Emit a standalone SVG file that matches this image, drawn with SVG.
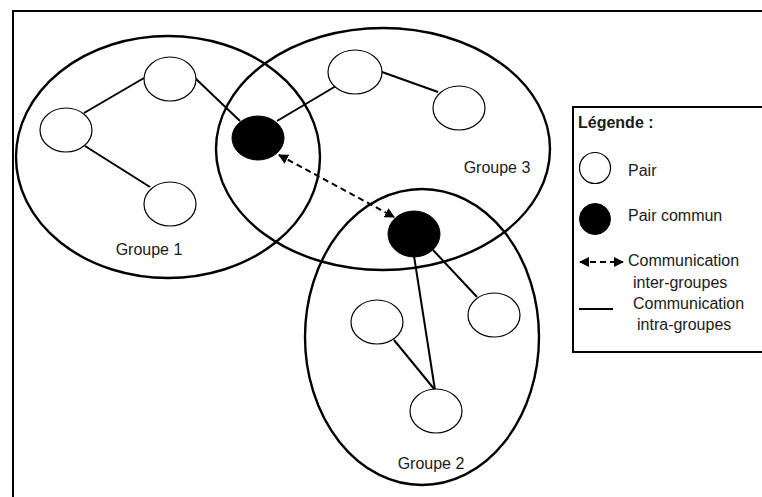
<svg xmlns="http://www.w3.org/2000/svg" width="762" height="497" viewBox="0 0 762 497">
<style>
.grp{fill:none;stroke:#000;stroke-width:2.4}
.pair{fill:#fff;stroke:#000;stroke-width:1.2}
.common{fill:#000;stroke:#000;stroke-width:1}
.intra{stroke:#000;stroke-width:2;fill:none}
.inter{stroke:#000;stroke-width:2;stroke-dasharray:6 4;fill:none;marker-start:url(#ah);marker-end:url(#ah)}
text{font-family:"Liberation Sans",Arial,sans-serif;font-size:16px;fill:#1a1a1a}
.b{font-weight:bold}
</style>
<defs>
<marker id="ah" viewBox="0 0 10 10" refX="9" refY="5" markerWidth="5" markerHeight="5" orient="auto-start-reverse" markerUnits="strokeWidth">
<path d="M0,0 L10,5 L0,10 z" fill="#000"/>
</marker>
</defs>
<rect width="762" height="497" fill="#fff"/>
<path d="M13,497 V11 H762" fill="none" stroke="#000" stroke-width="2"/>

<g id="groupe1">
<ellipse class="grp" cx="168" cy="157" rx="152" ry="121"/>
<text x="149" y="255" text-anchor="middle">Groupe 1</text>
</g>
<g id="groupe3">
<ellipse class="grp" cx="383" cy="149" rx="167" ry="121"/>
<text x="497" y="173" text-anchor="middle">Groupe 3</text>
</g>
<g id="groupe2">
<ellipse class="grp" cx="422" cy="337" rx="117" ry="148"/>
<text x="431" y="469" text-anchor="middle">Groupe 2</text>
</g>

<g id="connectors">
<line class="intra" x1="84" y1="113" x2="144" y2="78"/>
<line class="intra" x1="85" y1="146" x2="150" y2="187"/>
<line class="intra" x1="195" y1="78" x2="240" y2="121"/>
<line class="intra" x1="277" y1="121" x2="336" y2="86"/>
<line class="intra" x1="382" y1="72" x2="438" y2="92"/>
<line class="intra" x1="414" y1="256" x2="435" y2="390"/>
<line class="intra" x1="394" y1="340" x2="435" y2="390"/>
<line class="intra" x1="433" y1="250" x2="477" y2="297"/>
<line class="inter" x1="279" y1="155" x2="394" y2="217"/>
</g>

<g id="g1-pair-top"><ellipse class="pair" cx="170" cy="79" rx="26" ry="22"/></g>
<g id="g1-pair-left"><ellipse class="pair" cx="66" cy="130" rx="26" ry="22"/></g>
<g id="g1-pair-bottom"><ellipse class="pair" cx="170" cy="204" rx="26" ry="22"/></g>
<g id="common1"><ellipse class="common" cx="258" cy="138" rx="26" ry="22"/></g>
<g id="g3-pair-top"><ellipse class="pair" cx="355" cy="72" rx="27" ry="22"/></g>
<g id="g3-pair-right"><ellipse class="pair" cx="459" cy="108" rx="26" ry="22"/></g>
<g id="common2"><ellipse class="common" cx="414" cy="234" rx="26" ry="23"/></g>
<g id="g2-pair-left"><ellipse class="pair" cx="377" cy="322" rx="26" ry="22"/></g>
<g id="g2-pair-right"><ellipse class="pair" cx="494" cy="315" rx="26" ry="22"/></g>
<g id="g2-pair-bottom"><ellipse class="pair" cx="436" cy="411" rx="26" ry="22"/></g>

<g id="legend">
<path d="M762,107 H573 V352 H762" fill="none" stroke="#000" stroke-width="2"/>
<text class="b" x="578" y="128">Légende :</text>
<circle class="pair" cx="595" cy="168" r="15.5"/>
<text x="628" y="176">Pair</text>
<circle class="common" cx="595" cy="219" r="15.5"/>
<text x="628" y="221">Pair commun</text>
<line class="inter" x1="580" y1="262" x2="623" y2="262"/>
<text x="628" y="266">Communication</text>
<text x="633" y="288">inter-groupes</text>
<line class="intra" x1="579" y1="309" x2="613" y2="309"/>
<text x="633" y="309">Communication</text>
<text x="637" y="330">intra-groupes</text>
</g>
</svg>
